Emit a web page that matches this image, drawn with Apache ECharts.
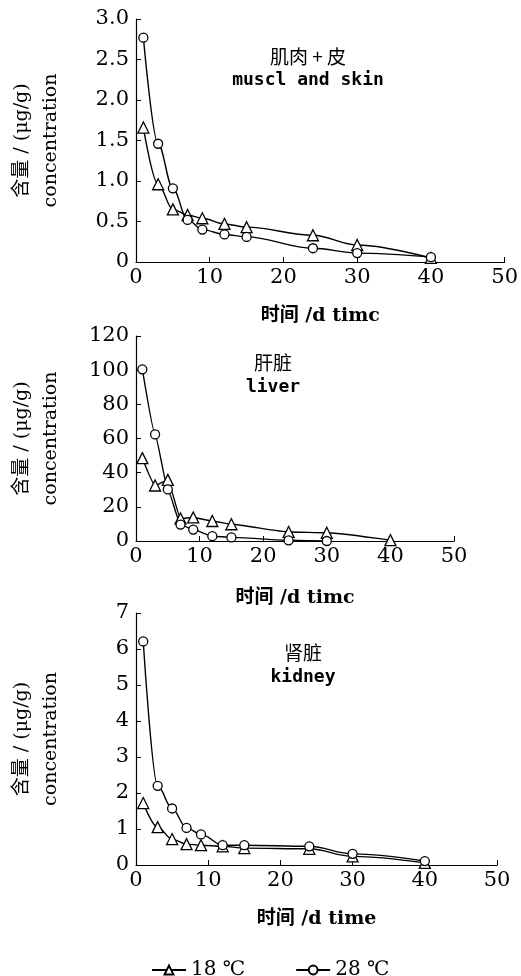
<!DOCTYPE html>
<html>
<head>
<meta charset="utf-8">
<script src="https://cdn.jsdelivr.net/npm/echarts@6/dist/echarts.min.js"></script>
<style>html,body{margin:0;padding:0;background:#fff}#c{width:521px;height:976px}</style>
</head>
<body>
<div id="c"></div>
<script>
// ---- data ----
var days = [1, 3, 5, 7, 9, 12, 15, 24, 30, 40];
var muscle18 = [1.66, 0.96, 0.65, 0.58, 0.54, 0.47, 0.43, 0.33, 0.21, 0.05];
var muscle28 = [2.77, 1.46, 0.91, 0.52, 0.40, 0.34, 0.31, 0.17, 0.11, 0.06];
var liverDays28 = [1, 3, 5, 7, 9, 12, 15, 24, 30];
var liver18 = [48.5, 32.5, 35.8, 13.2, 13.8, 11.7, 9.8, 5.3, 4.8, 0.5];
var liver28 = [100.5, 62.4, 30.2, 9.6, 6.7, 2.8, 2.1, 0.4, 0];
var kidney18 = [1.72, 1.05, 0.72, 0.58, 0.55, 0.52, 0.47, 0.45, 0.24, 0.06];
var kidney28 = [6.21, 2.20, 1.57, 1.03, 0.85, 0.55, 0.55, 0.52, 0.31, 0.11];
var seriesNames = ['18 \u2103', '28 \u2103'];
var panelTitles = [['肌肉 + 皮', 'muscl and skin'], ['肝脏', 'liver'], ['肾脏', 'kidney']];
var xNames = ['时间 /d timc', '时间 /d timc', '时间 /d time'];
var yName = '含量 / (μg/g)\nconcentration';

function pairs(xs, ys) { return xs.map(function (x, i) { return [x, ys[i]]; }); }

var serif = '"DejaVu Serif", "Noto Sans CJK SC", serif';
var grids = [
  {left: 133, top: 19, width: 374, height: 243},
  {left: 133, top: 336, width: 321, height: 205},
  {left: 133, top: 613, width: 364, height: 252}
];
var yCfg = [
  {max: 3, interval: 0.5, fmt: function (v) { return v === 0 ? '0' : v.toFixed(1); }},
  {max: 120, interval: 20, fmt: function (v) { return String(v); }},
  {max: 7, interval: 1, fmt: function (v) { return String(v); }}
];
var xGaps = [45, 48, 45];

var axisLine = {lineStyle: {color: '#000', width: 1.2}};
var xAxis = grids.map(function (g, i) {
  return {
    type: 'value', gridIndex: i, min: 0, max: 50, interval: 10,
    axisLine: axisLine, axisTick: {show: true, inside: true, length: 5, lineStyle: {color: '#000'}},
    splitLine: {show: false},
    axisLabel: {color: '#000', fontFamily: serif, fontSize: 21, margin: 5},
    name: xNames[i], nameLocation: 'middle', nameGap: xGaps[i],
    nameTextStyle: {color: '#000', fontFamily: serif, fontSize: 19, fontWeight: 'bold'}
  };
});
var yAxis = grids.map(function (g, i) {
  return {
    type: 'value', gridIndex: i, min: 0, max: yCfg[i].max, interval: yCfg[i].interval,
    axisLine: Object.assign({show: true}, axisLine),
    axisTick: {show: true, inside: true, length: 5, lineStyle: {color: '#000'}},
    splitLine: {show: false},
    axisLabel: {color: '#000', fontFamily: serif, fontSize: 21, margin: 7, formatter: yCfg[i].fmt},
    name: yName, nameLocation: 'middle', nameGap: 70, nameRotate: 90,
    nameTextStyle: {color: '#000', fontFamily: serif, fontSize: 19, lineHeight: 29, align: 'center'}
  };
});

function mk(name, symbol, gi, data, smooth) {
  return {
    name: name, type: 'line', xAxisIndex: gi, yAxisIndex: gi, data: data,
    symbol: symbol, symbolSize: symbol === 'triangle' ? 11 : 9,
    smooth: smooth, smoothMonotone: 'x',
    lineStyle: {color: '#000', width: 1.4, type: 'solid'},
    itemStyle: {color: '#fff', borderColor: '#000', borderWidth: 1.3},
    emphasis: {disabled: true}, animation: false
  };
}
var series = [
  mk(seriesNames[0], 'triangle', 0, pairs(days, muscle18), 0.35),
  mk(seriesNames[1], 'circle', 0, pairs(days, muscle28), 0.35),
  mk(seriesNames[0], 'triangle', 1, pairs(days, liver18), 0.15),
  mk(seriesNames[1], 'circle', 1, pairs(liverDays28, liver28), 0.15),
  mk(seriesNames[0], 'triangle', 2, pairs(days, kidney18), 0.35),
  mk(seriesNames[1], 'circle', 2, pairs(days, kidney28), 0.35)
];

var titlePos = [[308, 57, 80], [273, 363, 387], [303, 653, 677]];
var graphic = [];
panelTitles.forEach(function (t, i) {
  graphic.push({type: 'text', x: titlePos[i][0], y: titlePos[i][1],
    style: {text: t[0], fontSize: 19, fontFamily: '"Noto Sans CJK SC", sans-serif', fill: '#000', align: 'center', verticalAlign: 'middle'}});
  graphic.push({type: 'text', x: titlePos[i][0], y: titlePos[i][2],
    style: {text: t[1], fontSize: 18, fontFamily: '"DejaVu Sans Mono", monospace', fontWeight: 'bold', fill: '#000', align: 'center', verticalAlign: 'middle'}});
});

var chart = echarts.init(document.getElementById('c'), null, {renderer: 'canvas'});
chart.setOption({
  backgroundColor: '#fff',
  animation: false,
  grid: grids,
  xAxis: xAxis,
  yAxis: yAxis,
  series: series,
  graphic: graphic,
  legend: {
    data: seriesNames, left: 146, top: 955, itemGap: 50, itemWidth: 34, itemHeight: 11,
    textStyle: {color: '#000', fontFamily: serif, fontSize: 20},
    selectedMode: false
  }
});
</script>
</body>
</html>
